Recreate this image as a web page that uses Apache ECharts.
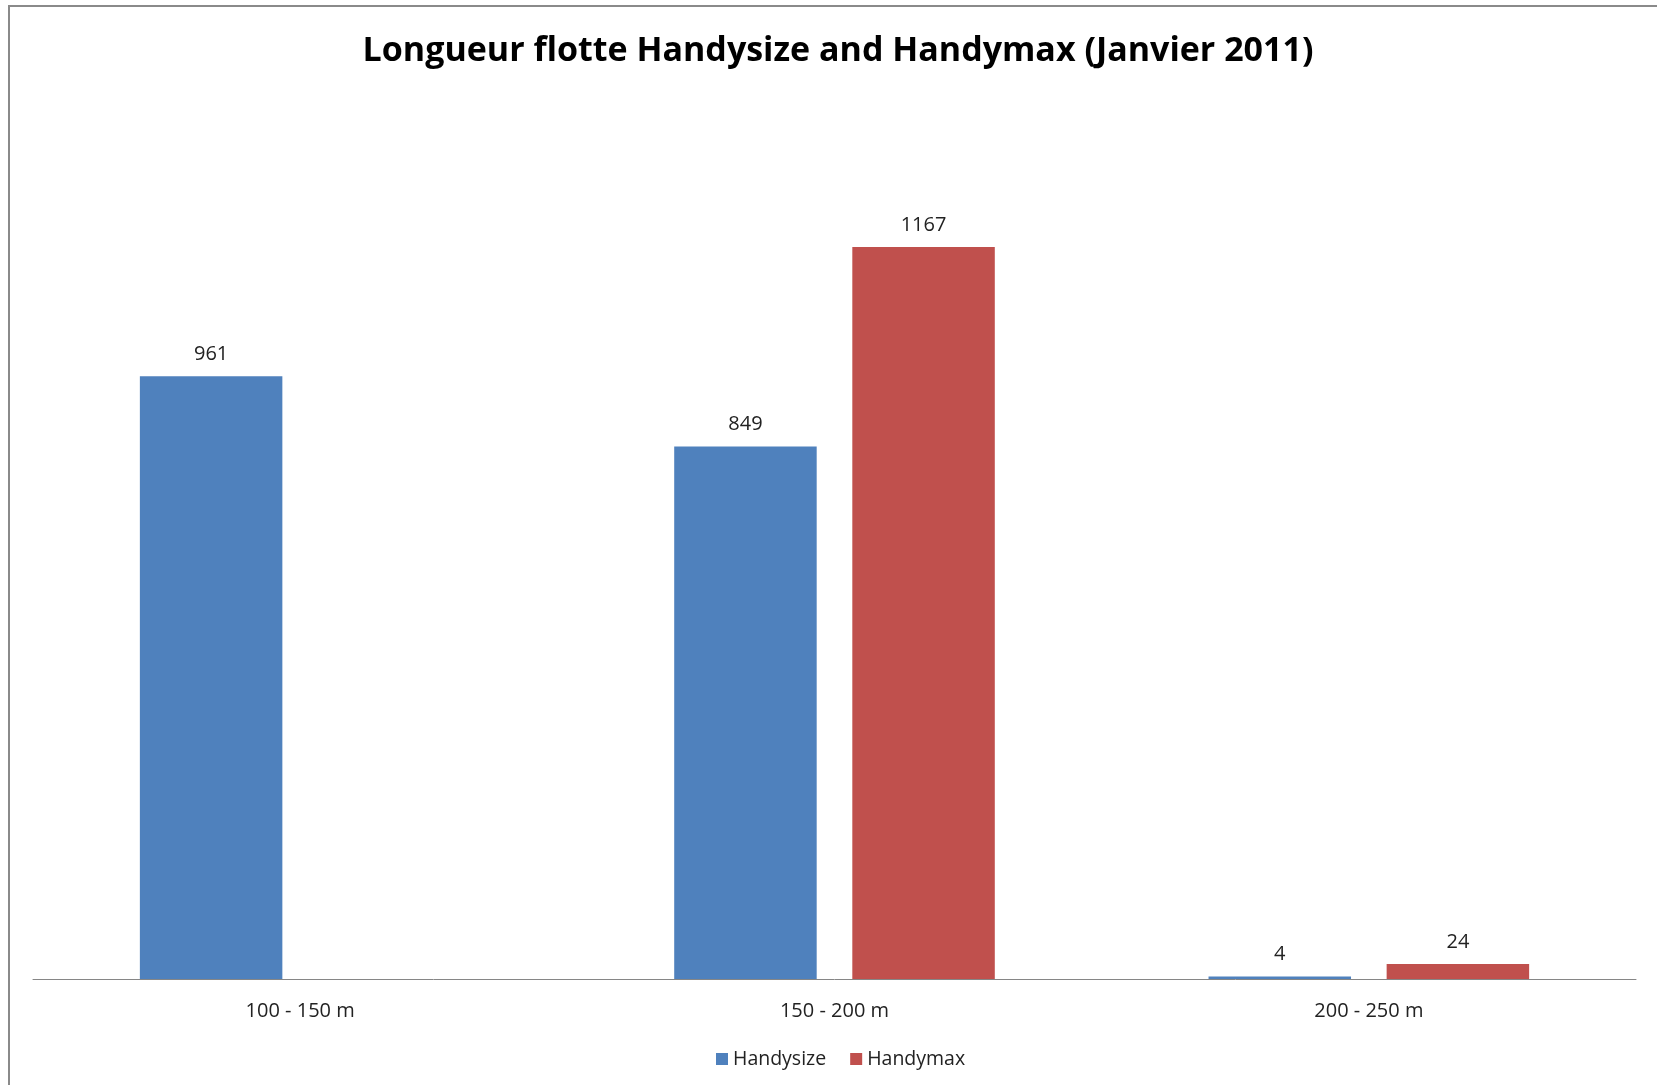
<!DOCTYPE html>
<html>
<head>
<meta charset="utf-8">
<script src="https://cdn.jsdelivr.net/npm/echarts@6/dist/echarts.min.js"></script>
<style>
html,body{margin:0;padding:0;background:#fff;}
#chart{width:1657px;height:1085px;}
</style>
</head>
<body>
<div id="chart"></div>
<script>
const titleText = 'Longueur flotte Handysize and Handymax (Janvier 2011)';
const categories = ['100 - 150 m', '150 - 200 m', '200 - 250 m'];
const seriesNames = ['Handysize', 'Handymax'];
const handysize = [961, 849, 4];
const handymax = [null, 1167, 24];

const chart = echarts.init(document.getElementById('chart'));
const font = 'Open Sans';
chart.setOption({
  backgroundColor: '#fff',
  animation: false,
  title: {
    text: titleText,
    left: 833, top: 29,
    textAlign: 'center',
    textStyle: {fontFamily: font, fontWeight: 'bold', fontSize: 34, color: '#000'}
  },
  graphic: [{
    type: 'rect', silent: true,
    shape: {x: 9, y: 6, width: 1800, height: 1200},
    style: {fill: 'none', stroke: '#8a8a8a', lineWidth: 2}
  }],
  legend: {
    data: seriesNames,
    left: 711, top: 1044,
    itemWidth: 12, itemHeight: 12, itemGap: 24,
    icon: 'rect',
    textStyle: {fontFamily: font, fontSize: 19.5, color: '#222'}
  },
  grid: {left: 33, right: 21, top: 101, bottom: 106, containLabel: false},
  xAxis: {
    type: 'category', data: categories,
    axisLine: {lineStyle: {color: '#868686', width: 1}},
    axisTick: {show: false},
    axisLabel: {fontFamily: font, fontSize: 20, color: '#222', margin: 22}
  },
  yAxis: {type: 'value', min: 0, max: 1400, show: false, splitLine: {show: false}},
  series: [
    {
      name: seriesNames[0], type: 'bar', data: handysize,
      barGap: '25%', barCategoryGap: '40%',
      itemStyle: {color: '#4F81BD'},
      label: {show: true, position: 'top', distance: 12, fontFamily: font, fontSize: 20, color: '#222'}
    },
    {
      name: seriesNames[1], type: 'bar', data: handymax,
      barGap: '25%', barCategoryGap: '40%',
      itemStyle: {color: '#C0504D'},
      label: {show: true, position: 'top', distance: 12, fontFamily: font, fontSize: 20, color: '#222'}
    }
  ]
});
</script>
</body>
</html>
